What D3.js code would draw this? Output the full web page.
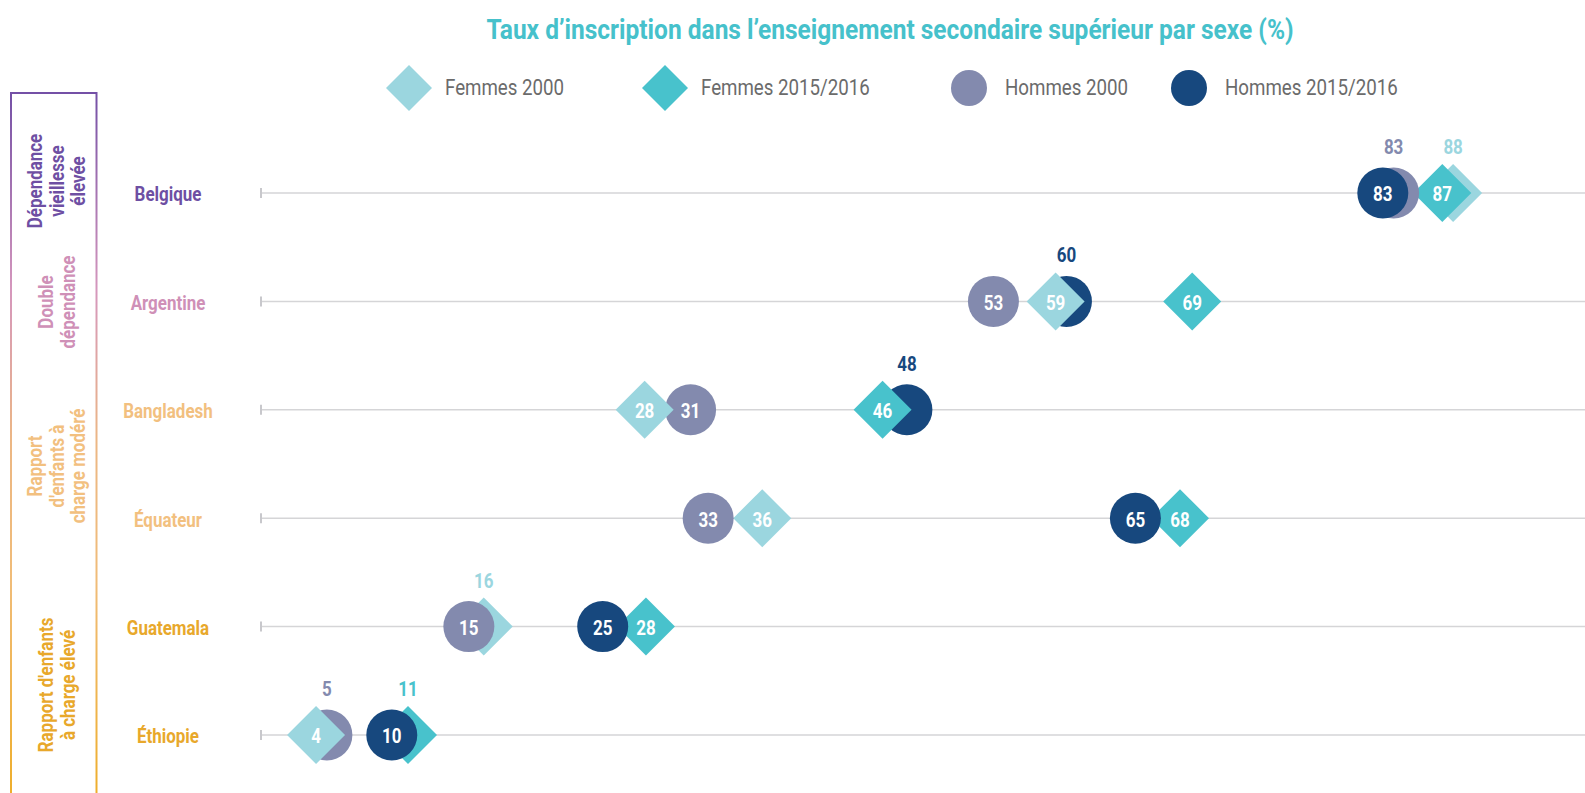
<!DOCTYPE html>
<html><head><meta charset="utf-8">
<script src="https://cdn.jsdelivr.net/npm/d3@7"></script>
<style>html,body{margin:0;padding:0;background:#fff;overflow:hidden}</style>
</head><body>
<svg id="chart" width="1585" height="793"></svg>
<script>
// ---------- DATA ----------
const countries = ["Belgique", "Argentine", "Bangladesh", "Équateur", "Guatemala", "Éthiopie"];
const countryColors = ["#6e4fa3", "#cf90b7", "#f2c07f", "#f2c07f", "#e8a82b", "#e8a82b"];
const seriesNames = ["Femmes 2000", "Femmes 2015/2016", "Hommes 2000", "Hommes 2015/2016"];
const seriesShapes = ["diamond", "diamond", "circle", "circle"];
const seriesColors = ["#9bd6df", "#48c2cc", "#838aae", "#17487e"];
// values per series, in country order (positions)
const femmes2000 = [88.1, 58.7, 28.3, 37.0, 16.4, 4.0];
const femmes2016 = [87.3, 68.8, 45.9, 67.9, 28.4, 10.8];
const hommes2000 = [83.7, 54.1, 31.7, 33.0, 15.3, 4.8];
const hommes2016 = [82.9, 59.5, 47.7, 64.6, 25.2, 9.6];
// printed labels
const femmes2000Labels = ["88", "59", "28", "36", "16", "4"];
const femmes2016Labels = ["87", "69", "46", "68", "28", "11"];
const hommes2000Labels = ["83", "53", "31", "33", "15", "5"];
const hommes2016Labels = ["83", "60", "48", "65", "25", "10"];
const groups = [
  {lines: ["Dépendance", "vieillesse", "élevée"], color: "#6e4fa3"},
  {lines: ["Double", "dépendance"], color: "#cf90b7"},
  {lines: ["Rapport", "d'enfants à", "charge modéré"], color: "#f2c07f"},
  {lines: ["Rapport d'enfants", "à charge élevé"], color: "#e8a82b"}
];
const groupCenters = [181, 302, 466, 685];
const title = "Taux d’inscription dans l’enseignement secondaire supérieur par sexe (%)";

// ---------- SETUP ----------
const W = 1585, H = 793;
const SX = 0.87; // horizontal squeeze to mimic a condensed face
const FONT = "Roboto, 'Noto Sans', sans-serif";
const svg = d3.select("#chart");

const x = d3.scaleLinear().domain([0, 100]).range([262, 1614]);
const y = d3.scalePoint().domain(countries).range([193, 735]);

function txt(g, px, py, s, o) {
  o = o || {};
  const rot = o.rotate ? ` rotate(${o.rotate})` : "";
  return g.append("text")
    .attr("transform", `translate(${px},${py})${rot} scale(${o.sx || SX},1)`)
    .attr("text-anchor", o.anchor || "middle")
    .attr("dominant-baseline", "central")
    .attr("font-family", FONT)
    .attr("font-size", o.size || 16)
    .attr("font-weight", o.weight || "normal")
    .attr("fill", o.fill || "#333")
    .text(s);
}

// gradient for left box
const defs = svg.append("defs");
const grad = defs.append("linearGradient").attr("id", "boxgrad")
  .attr("gradientUnits", "userSpaceOnUse").attr("x1", 0).attr("y1", 93).attr("x2", 0).attr("y2", 793);
[[0, "#7450a6"], [0.28, "#d597bd"], [0.5, "#ecb784"], [0.7, "#f0bc78"], [1, "#eeae2c"]]
  .forEach(([o, c]) => grad.append("stop").attr("offset", o).attr("stop-color", c));

// ---------- TITLE ----------
txt(svg, 890, 29, title, {size: 28, weight: "bold", fill: "#46c1cb", sx: 0.875});

// ---------- LEGEND ----------
const legendX = [409, 665, 969, 1189];
const legend = svg.append("g");
seriesNames.forEach((name, i) => {
  const cx = legendX[i], cy = 88;
  if (seriesShapes[i] === "diamond") {
    legend.append("path").attr("d", `M${cx},${cy - 23}L${cx + 23},${cy}L${cx},${cy + 23}L${cx - 23},${cy}Z`)
      .attr("fill", seriesColors[i]);
  } else {
    legend.append("circle").attr("cx", cx).attr("cy", cy).attr("r", 18).attr("fill", seriesColors[i]);
  }
  txt(legend, cx + 36, cy, name, {anchor: "start", size: 21.5, fill: "#6b6b6b"});
});

// ---------- LEFT GROUP BOX ----------
svg.append("rect").attr("x", 11).attr("y", 93).attr("width", 85.5).attr("height", 760)
  .attr("fill", "none").attr("stroke", "url(#boxgrad)").attr("stroke-width", 2);
groups.forEach((gr, gi) => {
  const n = gr.lines.length, lh = 21.5;
  gr.lines.forEach((ln, li) => {
    const lx = 57 + (li - (n - 1) / 2) * lh;
    txt(svg, lx, groupCenters[gi], ln, {rotate: -90, size: 19.5, weight: "bold", fill: gr.color});
  });
});

// ---------- ROWS ----------
const rows = svg.append("g");
countries.forEach((c, i) => {
  const yy = y(c);
  rows.append("line").attr("x1", x(0) - 1).attr("x2", W).attr("y1", yy).attr("y2", yy)
    .attr("stroke", "#d5d5d7").attr("stroke-width", 1.5);
  rows.append("line").attr("x1", x(0) - 1).attr("x2", x(0) - 1).attr("y1", yy - 5).attr("y2", yy + 5)
    .attr("stroke", "#c8c8cc").attr("stroke-width", 2);
  txt(rows, 168, yy + 1.5, c, {size: 19.5, weight: "bold", fill: countryColors[i]});
});

// ---------- MARKERS ----------
const seriesVals = [femmes2000, femmes2016, hommes2000, hommes2016];
const seriesLabels = [femmes2000Labels, femmes2016Labels, hommes2000Labels, hommes2016Labels];
const R = 25.5, D = 29;
const marks = svg.append("g");
countries.forEach((c, ci) => {
  const pts = seriesVals.map((vals, si) => ({si, v: vals[ci], lab: seriesLabels[si][ci], px: x(vals[ci])}));
  // higher values drawn first, lower values on top
  pts.sort((a, b) => b.v - a.v);
  const yy = y(c);
  pts.forEach(p => {
    p.covered = pts.some(q => q !== p && q.v < p.v && Math.abs(q.px - p.px) < 35);
  });
  pts.forEach(p => {
    if (seriesShapes[p.si] === "diamond") {
      marks.append("path")
        .attr("d", `M${p.px},${yy - D}L${p.px + D},${yy}L${p.px},${yy + D}L${p.px - D},${yy}Z`)
        .attr("fill", seriesColors[p.si]);
    } else {
      marks.append("circle").attr("cx", p.px).attr("cy", yy).attr("r", R).attr("fill", seriesColors[p.si]);
    }
  });
  pts.forEach(p => {
    if (p.covered) {
      txt(marks, p.px, yy - 46, p.lab, {size: 19.5, weight: "bold", fill: seriesColors[p.si]});
    }
  });
  pts.forEach(p => {
    if (!p.covered) {
      txt(marks, p.px, yy + 1.5, p.lab, {size: 19.5, weight: "bold", fill: "#ffffff"});
    }
  });
});
</script>
</body></html>
